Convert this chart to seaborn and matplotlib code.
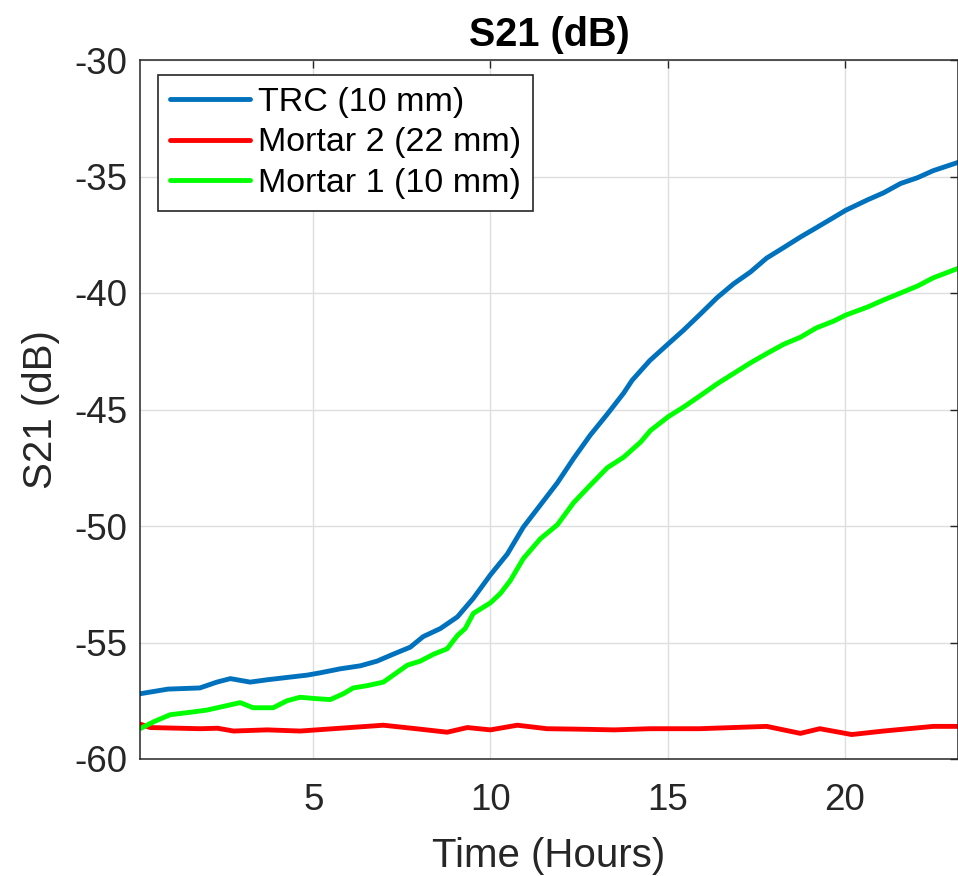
import matplotlib
matplotlib.use("Agg")
import matplotlib.pyplot as plt
import seaborn as sns
import pandas as pd

# ---- data ----
trc_t = [0.11, 0.9, 1.8, 2.28, 2.66, 3.22, 3.7, 4.26, 4.83, 5.2, 5.76, 6.33, 6.8,
         7.26, 7.74, 8.1, 8.59, 9.07, 9.52, 10.0, 10.48, 10.93, 11.41, 11.89,
         12.35, 12.82, 13.3, 13.76, 14.0, 14.5, 15.03, 15.45, 15.93, 16.4, 16.87,
         17.34, 17.8, 18.28, 18.75, 19.2, 19.7, 20.03, 20.65, 21.1, 21.58, 22.06,
         22.5, 23.19]
trc_v = [-57.2, -57.0, -56.95, -56.7, -56.55, -56.7, -56.6, -56.5, -56.4, -56.3,
         -56.13, -56.0, -55.8, -55.5, -55.2, -54.75, -54.4, -53.9, -53.1, -52.1,
         -51.2, -50.05, -49.1, -48.15, -47.1, -46.1, -45.2, -44.3, -43.75, -42.9,
         -42.17, -41.6, -40.9, -40.2, -39.6, -39.1, -38.5, -38.05, -37.6, -37.2,
         -36.75, -36.45, -36.0, -35.7, -35.3, -35.05, -34.75, -34.4]

m2_t = [0.11, 0.4, 1.8, 2.3, 2.75, 3.7, 4.63, 5.57, 6.98, 7.9, 8.78, 9.35, 10.0,
        10.76, 11.6, 12.5, 13.5, 14.5, 15.9, 17.8, 18.75, 19.3, 20.2, 21.1, 22.5, 23.2]
m2_v = [-58.5, -58.65, -58.7, -58.68, -58.8, -58.75, -58.8, -58.7, -58.55, -58.7,
        -58.85, -58.65, -58.75, -58.55, -58.7, -58.72, -58.75, -58.7, -58.7, -58.6,
        -58.9, -58.7, -58.95, -58.8, -58.6, -58.6]

m1_t = [0.11, 0.5, 0.96, 1.5, 2.0, 2.94, 3.3, 3.87, 4.26, 4.63, 5.0, 5.48, 5.85,
        6.13, 6.53, 6.98, 7.26, 7.66, 8.02, 8.4, 8.78, 9.07, 9.29, 9.52, 10.0,
        10.28, 10.56, 10.93, 11.41, 11.89, 12.35, 12.82, 13.3, 13.76, 14.24, 14.52,
        15.03, 15.45, 15.93, 16.4, 16.87, 17.34, 17.8, 18.28, 18.75, 19.2, 19.7,
        20.03, 20.65, 21.1, 21.58, 22.06, 22.5, 23.19]
m1_v = [-58.7, -58.4, -58.1, -58.0, -57.9, -57.58, -57.8, -57.8, -57.5, -57.35,
        -57.4, -57.45, -57.2, -56.95, -56.85, -56.7, -56.4, -55.97, -55.8, -55.5,
        -55.27, -54.7, -54.4, -53.75, -53.3, -52.9, -52.35, -51.4, -50.55, -49.95,
        -49.0, -48.25, -47.5, -47.05, -46.4, -45.9, -45.3, -44.9, -44.4, -43.9,
        -43.45, -43.0, -42.6, -42.2, -41.9, -41.5, -41.2, -40.95, -40.6, -40.3,
        -40.0, -39.7, -39.35, -38.95]

series_names = ["TRC (10 mm)", "Mortar 2 (22 mm)", "Mortar 1 (10 mm)"]
colors = ["#0072BD", "#FF0000", "#00FF00"]
x_ticks = [5, 10, 15, 20]
y_ticks = [-60, -55, -50, -45, -40, -35, -30]

df = pd.concat([
    pd.DataFrame({"Time": trc_t, "S21": trc_v, "Series": series_names[0]}),
    pd.DataFrame({"Time": m2_t, "S21": m2_v, "Series": series_names[1]}),
    pd.DataFrame({"Time": m1_t, "S21": m1_v, "Series": series_names[2]}),
], ignore_index=True)

sns.set_style("white")
plt.rcParams["font.family"] = ["Liberation Sans", "DejaVu Sans"]
plt.rcParams["axes.unicode_minus"] = False

fig = plt.figure(figsize=(9.58, 8.76), dpi=100)
ax = fig.add_axes([140 / 958, 1 - 759 / 876, 818 / 958, 699 / 876])

sns.lineplot(data=df, x="Time", y="S21", hue="Series", hue_order=series_names,
             palette=colors, estimator=None, sort=True, linewidth=3.5, ax=ax)

ax.set_xlim(0.11, 23.2)
ax.set_ylim(-60, -30)
ax.set_xticks(x_ticks)
ax.set_yticks(y_ticks)

dark = "#262626"
ax.grid(True, color="#dedede", linewidth=1.0)
ax.set_axisbelow(True)
for s in ax.spines.values():
    s.set_visible(True)
    s.set_color(dark)
    s.set_linewidth(1.1)
ax.tick_params(axis="both", direction="in", top=True, right=True, length=6,
               width=1.0, color=dark, labelcolor=dark, labelsize=26.5)
ax.tick_params(axis="y", pad=9)
ax.tick_params(axis="x", pad=17)

ax.set_xlabel("Time (Hours)", fontsize=29, color=dark, labelpad=14)
ax.set_ylabel("S21 (dB)", fontsize=29, color=dark, labelpad=10)
ax.set_title("S21 (dB)", fontsize=28.5, fontweight="bold", color="black", pad=10)

leg = ax.legend(loc="upper left", bbox_to_anchor=(0.022, 0.9785), borderaxespad=0,
                fontsize=24.5, frameon=True, fancybox=False, framealpha=1,
                handlelength=2.35, handletextpad=0.25, labelspacing=0.28,
                borderpad=0.35, title=None)
leg.get_frame().set_edgecolor(dark)
leg.get_frame().set_linewidth(1.2)
for line in leg.get_lines():
    line.set_linewidth(3.5)
for t in leg.get_texts():
    t.set_color("black")

fig.savefig("out.png", dpi=100)
